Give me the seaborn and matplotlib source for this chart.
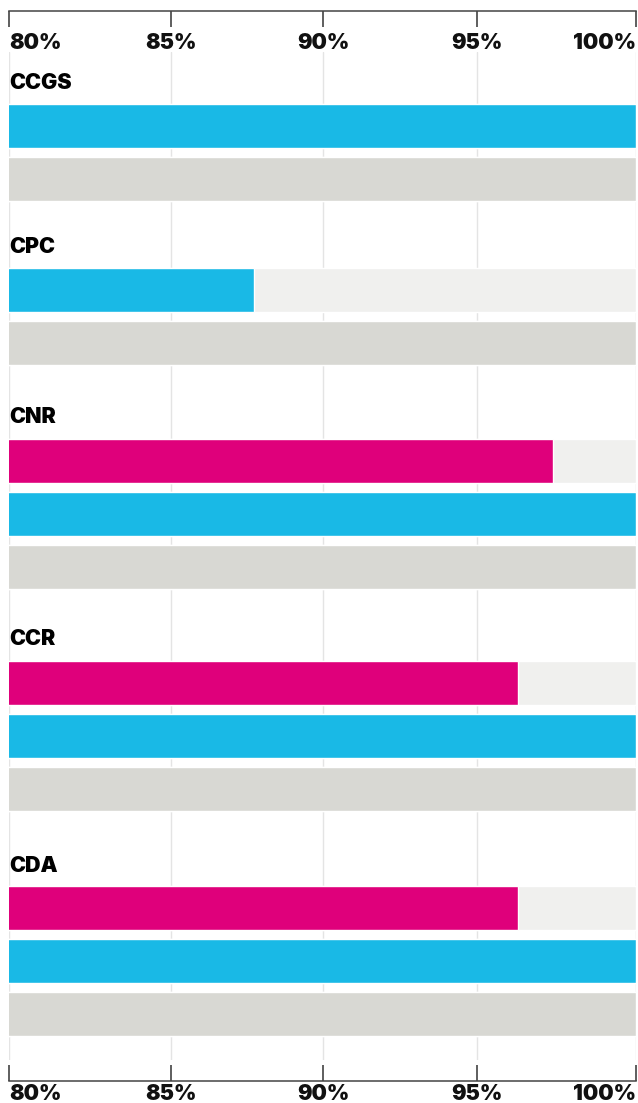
import matplotlib
matplotlib.use("Agg")
import matplotlib.pyplot as plt
import matplotlib.transforms as mtransforms
import seaborn as sns
import pandas as pd

# ---- data ----
groups = ["CCGS", "CPC", "CNR", "CCR", "CDA"]
magenta_vals = [None, None, 97.35, 96.25, 96.25]
blue_vals = [100, 87.8, 100, 100, 100]
gray_vals = [100, 100, 100, 100, 100]
full_scale = 100
tick_positions = [80, 85.18, 90.03, 94.92, 100]
tick_labels = ["80%", "85%", "90%", "95%", "100%"]
series_names = ["magenta", "blue", "gray"]

# ---- style ----
sns.set_theme(style="white")
plt.rcParams["font.family"] = ["Inter", "DejaVu Sans"]
colors = {"magenta": "#DF007B", "blue": "#19B9E6", "gray": "#D8D8D3"}
track_color = "#F0F0EE"
W, H = 638, 1103
fig = plt.figure(figsize=(W / 100, H / 100), dpi=100)


def fx(px):
    return px / W


def fy(py):
    return 1 - py / H


LEFT, RIGHT = 9.0, 636.0
XMIN, XMAX = 80, 100
FS = 15.5
FW = 900

# gridline axis (behind)
gax = fig.add_axes([fx(LEFT), fy(1060), fx(RIGHT - LEFT), (1060 - 52) / H])
gax.set_xlim(XMIN, XMAX)
gax.set_xticks(tick_positions)
gax.grid(axis="x", color="#E4E4E4", lw=1)
gax.set_yticks([])
for s in gax.spines.values():
    s.set_visible(False)
gax.tick_params(length=0, labelbottom=False)
gax.patch.set_alpha(0)
gax.set_zorder(0)

# frame axis with top/bottom scales
fax = fig.add_axes([fx(LEFT), fy(1081), fx(RIGHT - LEFT), (1081 - 11) / H])
fax.set_xlim(XMIN, XMAX)
fax.set_xticks(tick_positions)
fax.set_yticks([])
fax.patch.set_alpha(0)
for side in ["left", "right"]:
    fax.spines[side].set_visible(False)
for side in ["top", "bottom"]:
    fax.spines[side].set_color("#444444")
    fax.spines[side].set_linewidth(1.1)
fax.tick_params(axis="x", which="both", direction="in", length=16 * 0.72,
                width=1.1, color="#333333", top=True, bottom=True,
                labelbottom=False, labeltop=False)
fax.set_zorder(3)

trans = mtransforms.blended_transform_factory(fax.transData, fig.transFigure)
for i, (t, lab) in enumerate(zip(tick_positions, tick_labels)):
    ha = "left" if i == 0 else ("right" if i == len(tick_positions) - 1 else "center")
    for base in (49, 1100):
        fig.text(t, fy(base), lab, transform=trans, ha=ha, va="baseline",
                 fontsize=FS, fontweight=FW, color="#111111")

# group axes layout (pixel tops) and label baselines
group_tops = [99.5, 263.5, 434.5, 656.5, 881.5]
label_base = [89, 253, 423, 645, 872]
slot = 53

for gi, g in enumerate(groups):
    rows = []
    for name, vals in zip(series_names, [magenta_vals, blue_vals, gray_vals]):
        if vals[gi] is not None:
            rows.append({"series": name, "value": vals[gi], "track": full_scale})
    df = pd.DataFrame(rows)
    n = len(df)
    top = group_tops[gi]
    ax = fig.add_axes([fx(LEFT), fy(top + n * slot), fx(RIGHT - LEFT), n * slot / H])
    order = list(df["series"])
    sns.barplot(data=df, y="series", x="track", order=order, color=track_color,
                orient="h", width=44 / 53, ax=ax, saturation=1)
    sns.barplot(data=df, y="series", x="value", order=order, hue="series",
                hue_order=order, palette=colors, orient="h", width=44 / 53,
                ax=ax, legend=False, dodge=False, saturation=1)
    ax.set_xlim(XMIN, XMAX)
    ax.set_ylim(n - 0.5, -0.5)
    ax.axis("off")
    ax.patch.set_alpha(0)
    ax.set_zorder(2)
    fig.text(fx(LEFT), fy(label_base[gi]), g, ha="left", va="baseline",
             fontsize=FS, fontweight=FW, color="#000000")

fig.savefig("out.png", dpi=100)
